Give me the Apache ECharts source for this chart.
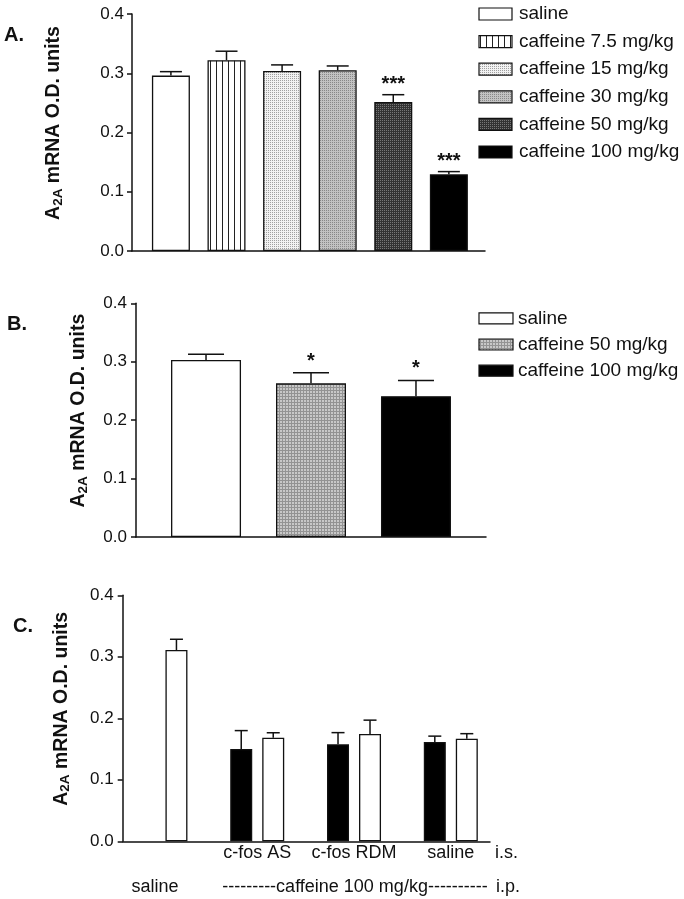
<!DOCTYPE html>
<html><head><meta charset="utf-8">
<script src="https://cdn.jsdelivr.net/npm/echarts@6/dist/echarts.min.js"></script>
<style>html,body{margin:0;padding:0;background:#fff}#c{width:684px;height:899px}</style>
</head><body><div id="c"></div>
<script>
// ---------- data ----------
// Panel A
const A_groups = ['saline','caffeine 7.5 mg/kg','caffeine 15 mg/kg','caffeine 30 mg/kg','caffeine 50 mg/kg','caffeine 100 mg/kg'];
const A_values = [0.296, 0.322, 0.304, 0.305, 0.2515, 0.1295];
const A_sem    = [0.0067, 0.0152, 0.0101, 0.0073, 0.0123, 0.0045];
const A_sig    = ['', '', '', '', '***', '***'];
// Panel B
const B_groups = ['saline','caffeine 50 mg/kg','caffeine 100 mg/kg'];
const B_values = [0.303, 0.263, 0.241];
const B_sem    = [0.010, 0.018, 0.027];
const B_sig    = ['', '*', '*'];
// Panel C
const C_is_labels = ['', 'c-fos AS', 'c-fos RDM', 'saline'];
const C_ip_labels = ['saline', '---------caffeine 100 mg/kg----------'];
const C_black     = [null, 0.150, 0.1577, 0.1615];
const C_black_sem = [null, 0.030, 0.019, 0.0095];
const C_white     = [0.311, 0.1685, 0.1745, 0.1668];
const C_white_sem = [0.0175, 0.008, 0.0225, 0.0082];
const Y_ticks = [0.0, 0.1, 0.2, 0.3, 0.4];
const Y_name = '{a|A}{s|2A}{a| mRNA O.D. units}';

// ---------- styles ----------
const FONT = '"Liberation Sans", Arial, Helvetica, sans-serif';
const INK = '#111';
function pat(w, h, draw) {
  const c = document.createElement('canvas'); c.width = w; c.height = h;
  draw(c.getContext('2d')); return { image: c, repeat: 'repeat' };
}
const P = {
  white: '#ffffff',
  vlines: pat(6, 4, g => { g.fillStyle = '#fff'; g.fillRect(0,0,6,4); g.fillStyle = '#222'; g.fillRect(0,0,1,4); }),
  dots: pat(2, 2, g => { g.fillStyle = '#f2f2f2'; g.fillRect(0,0,2,2); g.fillStyle = '#a0a0a0'; g.fillRect(0,0,1,1); }),
  grey: pat(2, 2, g => { g.fillStyle = '#c2c2c2'; g.fillRect(0,0,2,2); g.fillStyle = '#888'; g.fillRect(0,0,1,1); }),
  greyB: pat(3, 3, g => { g.fillStyle = '#c8c8c8'; g.fillRect(0,0,3,3); g.fillStyle = '#939393'; g.fillRect(0,0,3,1); g.fillRect(0,0,1,3); }),
  dark: pat(2, 2, g => { g.fillStyle = '#333'; g.fillRect(0,0,2,2); g.fillStyle = '#777'; g.fillRect(0,0,1,1); }),
  black: '#000000'
};
const A_fill = [P.white, P.vlines, P.dots, P.grey, P.dark, P.black];
const B_fill = [P.white, P.greyB, P.black];
const C_barW = 22, C_gapPx = 10;

function yAxis(gi, gap, margin) {
  return {
    type: 'value', gridIndex: gi, min: Y_ticks[0], max: Y_ticks[Y_ticks.length-1], interval: 0.1,
    axisLine: { show: true, onZero: false, lineStyle: { color: INK, width: 1.5 } },
    axisTick: { show: true, inside: false, length: 5, lineStyle: { color: INK, width: 1.5 } },
    splitLine: { show: false },
    axisLabel: { fontFamily: FONT, fontSize: 17, color: INK, margin: margin, formatter: v => v.toFixed(1) },
    name: Y_name, nameLocation: 'middle', nameRotate: 90, nameGap: gap,
    nameTextStyle: {
      fontFamily: FONT, fontWeight: 'bold', fontSize: 19.5, color: INK, padding: [0, 0, 0, 19],
      rich: {
        a: { fontFamily: FONT, fontWeight: 'bold', fontSize: 19.5, color: INK, lineHeight: 22 },
        s: { fontFamily: FONT, fontWeight: 'bold', fontSize: 13.5, color: INK, lineHeight: 14, verticalAlign: 'bottom' }
      }
    }
  };
}
function xAxis(gi, min, max, extra) {
  return Object.assign({
    type: 'value', gridIndex: gi, min: min, max: max,
    axisLine: { show: true, onZero: false, lineStyle: { color: INK, width: 1.5 } },
    axisTick: { show: false }, axisLabel: { show: false }, splitLine: { show: false }
  }, extra || {});
}
function errSeries(ai, vals, sems, sig, capW, offPx, starGap) {
  return {
    type: 'custom', xAxisIndex: ai, yAxisIndex: ai, z: 5, silent: true,
    data: vals.map((v, i) => v == null ? [i, '-', '-'] : [i, v, v + sems[i]]),
    renderItem: (params, api) => {
      const i = params.dataIndex;
      if (vals[i] == null) return;
      const p1 = api.coord([api.value(0), api.value(1)]);
      const p2 = api.coord([api.value(0), api.value(2)]);
      const x = p1[0] + offPx;
      const ls = { stroke: INK, lineWidth: 1.5 };
      const ch = [
        { type: 'line', shape: { x1: x, y1: p1[1], x2: x, y2: p2[1] }, style: ls },
        { type: 'line', shape: { x1: x - capW/2, y1: p2[1], x2: x + capW/2, y2: p2[1] }, style: ls }
      ];
      if (sig && sig[i]) ch.push({ type: 'text', style: { text: sig[i], x: x, y: p2[1] - starGap,
        align: 'center', verticalAlign: 'middle', font: 'bold 20px ' + FONT, fill: INK } });
      return { type: 'group', children: ch };
    }
  };
}
function legend(names, fills, x0, y0, step, w, h, tx) {
  const out = [];
  names.forEach((n, i) => {
    const cy = y0 + i * step;
    out.push({ type: 'rect', shape: { x: x0, y: cy - h/2, width: w, height: h },
      style: { fill: fills[i], stroke: INK, lineWidth: 1.2 }, silent: true });
    out.push({ type: 'text', style: { text: n, x: tx, y: cy, align: 'left', verticalAlign: 'middle',
      font: '19px ' + FONT, fill: INK }, silent: true });
  });
  return out;
}
function txt(t, x, y, font, align) {
  return { type: 'text', silent: true, style: { text: t, x: x, y: y, align: align || 'left', verticalAlign: 'middle', font: font, fill: INK } };
}

const chart = echarts.init(document.getElementById('c'), null, { renderer: 'canvas' });
const option = {
  animation: false,
  backgroundColor: '#fff',
  grid: [
    { left: 132, top: 14, width: 353, height: 237, outerBoundsMode: 'none' },
    { left: 136, top: 303.3, width: 350, height: 233.7, outerBoundsMode: 'none' },
    { left: 122.7, top: 595.3, width: 367.3, height: 246, outerBoundsMode: 'none' }
  ],
  xAxis: [
    xAxis(0, -0.70, 5.65),
    xAxis(1, -0.667, 2.667),
    xAxis(2, -0.39, 3.405, { axisLabel: { show: true, customValues: [1, 2, 3], margin: 3,
      fontFamily: FONT, fontSize: 18, color: INK, formatter: v => C_is_labels[Math.round(v)] } })
  ],
  yAxis: [ yAxis(0, 67, 8), yAxis(1, 46, 9), yAxis(2, 50, 9) ],
  series: [
    { type: 'bar', xAxisIndex: 0, yAxisIndex: 0, barWidth: 38, silent: true,
      itemStyle: { borderColor: INK, borderWidth: 1.3 },
      data: A_values.map((v, i) => ({ name: A_groups[i], value: [i, v], itemStyle: { color: A_fill[i] } })) },
    errSeries(0, A_values, A_sem, A_sig, 22, 0, 10),
    { type: 'bar', xAxisIndex: 1, yAxisIndex: 1, barWidth: 70, silent: true,
      itemStyle: { borderColor: INK, borderWidth: 1.3 },
      data: B_values.map((v, i) => ({ name: B_groups[i], value: [i, v], itemStyle: { color: B_fill[i] } })) },
    errSeries(1, B_values, B_sem, B_sig, 36, 0, 11.5),
    { type: 'bar', name: 'black', xAxisIndex: 2, yAxisIndex: 2, barWidth: C_barW, barGap: (C_gapPx / C_barW * 100) + '%', silent: true,
      itemStyle: { color: '#000', borderColor: INK, borderWidth: 1.3 },
      data: C_black.map((v, i) => [i, v == null ? '-' : v]) },
    { type: 'bar', name: 'white', xAxisIndex: 2, yAxisIndex: 2, barWidth: C_barW, barGap: (C_gapPx / C_barW * 100) + '%', silent: true,
      itemStyle: { color: '#fff', borderColor: INK, borderWidth: 1.3 },
      data: C_white.map((v, i) => [i, v]) },
    errSeries(2, C_black, C_black_sem, null, 13, -(C_barW + C_gapPx) / 2, 10),
    errSeries(2, C_white, C_white_sem, null, 13, (C_barW + C_gapPx) / 2, 10)
  ],
  graphic: [].concat(
    [txt('A.', 4, 35, 'bold 20px ' + FONT), txt('B.', 7, 324, 'bold 20px ' + FONT), txt('C.', 13, 626, 'bold 20px ' + FONT)],
    legend(A_groups, A_fill, 479, 14, 27.6, 33, 12, 519),
    legend(B_groups, B_fill, 479, 318.3, 26.2, 34, 11, 518),
    [txt('i.s.', 495, 853, '18px ' + FONT),
     txt(C_ip_labels[0], 155, 887, '18px ' + FONT, 'center'),
     txt(C_ip_labels[1], 355, 887, '18px ' + FONT, 'center'),
     txt('i.p.', 496, 887, '18px ' + FONT)]
  )
};
chart.setOption(option);
</script></body></html>
